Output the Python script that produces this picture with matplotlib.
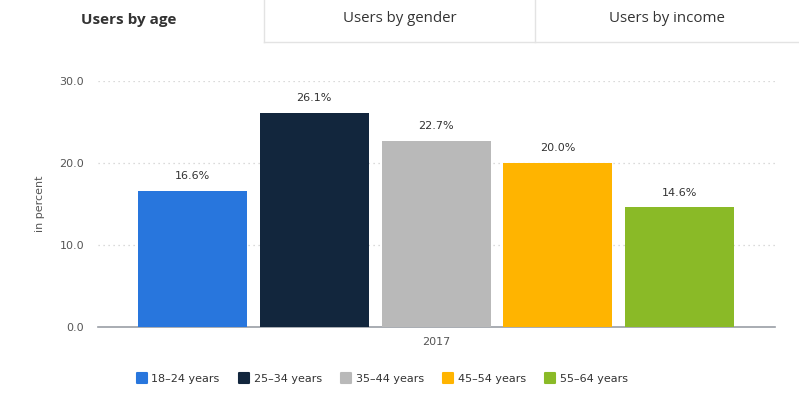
import matplotlib
matplotlib.use("Agg")
import matplotlib.pyplot as plt
from matplotlib.lines import Line2D
from matplotlib.markers import MarkerStyle

categories = ["18-24 years", "25-34 years", "35-44 years", "45-54 years", "55-64 years"]
values = [16.6, 26.1, 22.7, 20.0, 14.6]
colors = ["#2876DD", "#12263D", "#B9B9B9", "#FFB400", "#8ABA27"]
yticks = [0, 10, 20, 30]
tabs = ["Users by age", "Users by gender", "Users by income"]
xlabel = "2017"

W, H = 799, 398
fig = plt.figure(figsize=(W / 100, H / 100), dpi=100)
fig.patch.set_facecolor("white")

def fx(px):
    return px / W

def fy(py):
    return 1 - py / H

# Tabs
tab_font = "Open Sans"
fig.text(fx(129), fy(20), tabs[0], ha="center", va="center", fontsize=11,
         fontweight="bold", color="#333333", family=tab_font)
fig.text(fx(400), fy(18), tabs[1], ha="center", va="center", fontsize=10.8,
         color="#333333", family=tab_font)
fig.text(fx(667), fy(18), tabs[2], ha="center", va="center", fontsize=10.8,
         color="#333333", family=tab_font)
lc = "#E3E3E3"
fig.add_artist(Line2D([fx(264), fx(264)], [fy(0), fy(42)], color=lc, lw=1))
fig.add_artist(Line2D([fx(535), fx(535)], [fy(0), fy(42)], color=lc, lw=1))
fig.add_artist(Line2D([fx(264), fx(799)], [fy(42), fy(42)], color=lc, lw=1))

# Axes
left, right = 98, 775
top, bottom = 81, 327
ax = fig.add_axes([fx(left), fy(bottom), fx(right - left), (bottom - top) / H])
x = list(range(len(values)))
ax.bar(x, values, width=0.895, color=colors, zorder=3)
ax.set_xlim(-0.776, 4.784)
ax.set_ylim(0, 30)
ax.set_yticks(yticks)
ax.set_yticklabels([f"{v:.1f}" for v in yticks], fontsize=8, color="#555555")
ax.tick_params(axis="y", length=0, pad=10)
ax.set_xticks([2])
ax.set_xticklabels([xlabel], fontsize=8, color="#555555")
ax.tick_params(axis="x", length=0, pad=7)
for yv in yticks[1:]:
    ax.axhline(yv, color="#CFCFCF", lw=0.9, ls=(0, (1, 3)), zorder=1)
for s in ["top", "right", "left"]:
    ax.spines[s].set_visible(False)
ax.spines["bottom"].set_color("#9A9EA6")
ax.spines["bottom"].set_linewidth(1.2)
ax.set_ylabel("in percent", fontsize=8, color="#555555", labelpad=10)
for xi, v in zip(x, values):
    ax.annotate(f"{v:.1f}%", (xi, v), xytext=(0, 7), textcoords="offset points",
                ha="center", va="bottom", fontsize=8, color="#333333")

# Legend
mk = MarkerStyle("s", joinstyle="round")
handles = [Line2D([0], [0], marker=mk, ls="none", markersize=7.5,
                  markeredgewidth=1.5, markerfacecolor=c, markeredgecolor=c)
           for c in colors]
labels = [c.replace("-", "–") for c in categories]
fig.legend(handles, labels, loc="center", bbox_to_anchor=(fx(382), fy(379)),
           ncol=5, frameon=False, fontsize=8, handletextpad=0.35,
           handlelength=1.0, columnspacing=1.7, labelcolor="#333333")

fig.savefig("out.png", dpi=100, facecolor="white")
